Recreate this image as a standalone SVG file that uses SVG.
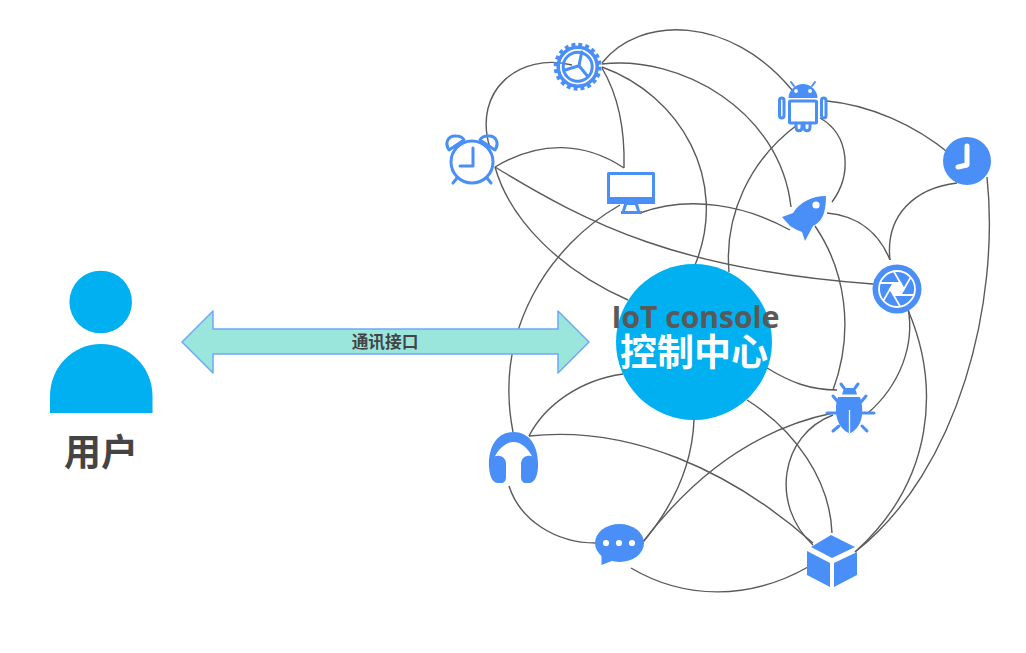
<svg xmlns="http://www.w3.org/2000/svg" width="1026" height="653" viewBox="0 0 1026 653">
<style>
.c{fill:none;stroke:#5a5a5a;stroke-width:1.4}
.i{fill:#4a8ef8}
.s{fill:none;stroke:#4a8ef8;stroke-width:3;stroke-linecap:round;stroke-linejoin:round}
.w{fill:none;stroke:#fff;stroke-linecap:round}
.t{font-family:"Noto Sans CJK SC","Open Sans",sans-serif;font-weight:700;text-anchor:middle}
</style>
<rect width="1026" height="653" fill="#fff"/>
<g id="connectors">
<path class="c" d="M572,65C520,52 472,90 490,148"/>
<path class="c" d="M602,63C640,15 730,15 792,90"/>
<path class="c" d="M602,64C680,55 780,110 791,207"/>
<path class="c" d="M602,67C680,95 730,180 695,265"/>
<path class="c" d="M602,68C618,95 625,130 624,168"/>
<path class="c" d="M495,167C540,140 585,142 624,168"/>
<path class="c" d="M495,167C510,220 560,270 628,300"/>
<path class="c" d="M495,167C590,225 680,270 873,284"/>
<path class="c" d="M620,205C550,245 493,330 513,432"/>
<path class="c" d="M640,213C690,195 745,205 790,230"/>
<path class="c" d="M797,125C750,160 724,215 729,272"/>
<path class="c" d="M820,118C850,135 852,175 832,202"/>
<path class="c" d="M827,101C870,105 915,125 950,154"/>
<path class="c" d="M957,183C915,188 885,215 890,260"/>
<path class="c" d="M987,177C1000,300 960,470 855,552"/>
<path class="c" d="M827,213C860,216 880,235 890,260"/>
<path class="c" d="M815,226C845,270 855,330 833,390"/>
<path class="c" d="M908,308C915,345 900,385 868,413"/>
<path class="c" d="M908,310C940,385 935,480 855,552"/>
<path class="c" d="M767,368C790,382 810,390 837,390"/>
<path class="c" d="M747,400C795,430 830,480 832,533"/>
<path class="c" d="M694,420C692,470 670,510 643,542"/>
<path class="c" d="M833,413C750,430 690,480 643,542"/>
<path class="c" d="M833,415C780,435 770,505 813,545"/>
<path class="c" d="M529,436C545,405 580,380 623,374"/>
<path class="c" d="M529,436C630,425 730,470 813,543"/>
<path class="c" d="M509,486C520,520 555,543 596,543"/>
<path class="c" d="M631,568C685,600 750,600 808,567"/>
</g>
<g id="user">
<circle cx="100.700" cy="302" r="31.300" fill="#00b0f0"/>
<path d="M50,413V396C50,367 73,344 101,344C129,344 152.500,367 152.500,396V413Z" fill="#00b0f0"/>
<text class="t" x="101" y="466" font-size="37" fill="#444">用户</text>
</g>
<g id="link">
<path d="M182,342L213,311V329H558V311L589,342L558,373V354H213V373Z" fill="#9ae5dc" stroke="#6fa8f5" stroke-width="1.500" stroke-linejoin="round"/>
<text class="t" x="385" y="348" font-size="16.700" fill="#444">通讯接口</text>
</g>
<g id="console">
<circle cx="694" cy="342" r="78" fill="#00b0f0"/>
<text x="695.500" y="328" font-size="30" fill="#595959" font-family="'Open Sans',sans-serif" font-weight="700" text-anchor="middle">IoT console</text>
<text class="t" x="694" y="366" font-size="37" fill="#fff">控制中心</text>
</g>
<g id="alarm">
<circle class="s" cx="472" cy="162" r="21"/>
<path class="s" d="M473,148V166H460M457,178L453,183M487,178L491,183"/>
<path class="s" d="M449,150C444,142 449,135 456,136C460,136 463,138 464,140ZM495,150C500,142 495,135 488,136C484,136 481,138 480,140Z"/>
</g>
<g id="gear">
<circle cx="577.700" cy="66.700" r="21.500" fill="none" stroke="#4a8ef8" stroke-width="5" stroke-dasharray="3.800 2.955"/>
<circle class="s" cx="577.700" cy="66.700" r="19.500" stroke-width="3.500" style="stroke-width:3.500"/>
<circle class="s" cx="577.700" cy="66.700" r="14.500"/>
<path class="s" d="M579,65.700L581.700,52M579,65.700L565,70M579,65.700L588,76.700"/>
</g>
<g id="monitor">
<rect x="608.500" y="173.500" width="45" height="29" class="s"/>
<rect x="607" y="197" width="48" height="7" rx="1" class="i"/>
<path class="i" d="M624,204H638L640,211H642V214H621V211H622ZM627,205L625,211H637L635,205Z" fill-rule="evenodd"/>
</g>
<g id="android">
<path class="i" d="M788.500,98C788.500,90 796,84 803,84C810,84 817.500,90 817.500,98Z"/>
<circle cx="796" cy="91" r="1.900" fill="#fff"/>
<circle cx="810" cy="91" r="1.900" fill="#fff"/>
<path class="s" style="stroke-width:2" d="M794,86L791,82M812,86L815,82"/>
<rect x="789.500" y="101" width="27" height="22" rx="1" class="s"/>
<rect x="779.500" y="98" width="4.500" height="20" rx="2.200" class="s"/>
<rect x="821.500" y="98" width="4.500" height="20" rx="2.200" class="s"/>
<path class="s" d="M796,123V127C796,132 802,132 802,127V123M804,123V127C804,132 810,132 810,127V123"/>
</g>
<g id="clock">
<circle cx="967" cy="161" r="24" class="i"/>
<path class="w" stroke-width="5" stroke-linejoin="round" d="M967,146V165L958,167"/>
</g>
<g id="rocket">
<path class="i" d="M826,196C812,196 800,202 793,213L782,217L790,226L797,230L802,232L805,241L813,226C822,222 826,213 826,196Z"/>
<circle cx="816" cy="205" r="3.600" fill="#fff"/>
</g>
<g id="camera">
<circle cx="897" cy="289" r="24.500" class="i"/>
<circle class="w" cx="897" cy="289" r="18" stroke-width="1.800"/>
<g transform="translate(897 289)">
<path fill="#fff" d="M-3.500,-6H3.500L7,0L3.500,6H-3.500L-7,0Z"/>
<g class="w" stroke-width="1.800">
<path d="M-3.500,6H16"/>
<path d="M-3.500,6H16" transform="rotate(60)"/>
<path d="M-3.500,6H16" transform="rotate(120)"/>
<path d="M-3.500,6H16" transform="rotate(180)"/>
<path d="M-3.500,6H16" transform="rotate(240)"/>
<path d="M-3.500,6H16" transform="rotate(300)"/>
</g>
</g>
</g>
<g id="bug">
<path class="i" d="M838,397H860C865,412 862,428 849.500,433.500C837,428 833,412 838,397Z"/>
<path class="i" d="M842,394.500L844,388H855L857,394.500Z"/>
<path class="s" d="M841,384L844,388M858,384L855,388M833,396L838,402M866,396L861,402M827,413H837M863,413H874M833,431L839,426M867,431L862,426"/>
<path stroke="#fff" stroke-width="1.300" d="M849.500,410V433"/>
</g>
<g id="headphones">
<path class="i" d="M489,468C488,445 498,432 513.500,432C529,432 539,445 538,468L533,458C528,448 521,442 513.500,442C506,442 499,448 494,458Z"/>
<path class="i" d="M489,465C489,458 495,455 500,456C504,457 506,460 506,464V477C506,481 504,483 501,483H498C492,483 489,475 489,465Z"/>
<path class="i" d="M538,465C538,458 532,455 527,456C523,457 521,460 521,464V477C521,481 523,483 526,483H529C535,483 538,475 538,465Z"/>
</g>
<g id="chat">
<ellipse cx="619.500" cy="543" rx="24.500" ry="19" class="i"/>
<path class="i" d="M601.500,553V565L612,561Z"/>
<circle cx="606" cy="543" r="3.100" fill="#fff"/>
<circle cx="619" cy="543" r="3.100" fill="#fff"/>
<circle cx="632" cy="543" r="3.100" fill="#fff"/>
</g>
<g id="cube">
<path class="i" d="M831,535L855,547L832,558L811,547Z"/>
<path class="i" d="M807,551L830,563V587L807,575Z"/>
<path class="i" d="M834,563L857,552V575L834,587Z"/>
</g>
</svg>
